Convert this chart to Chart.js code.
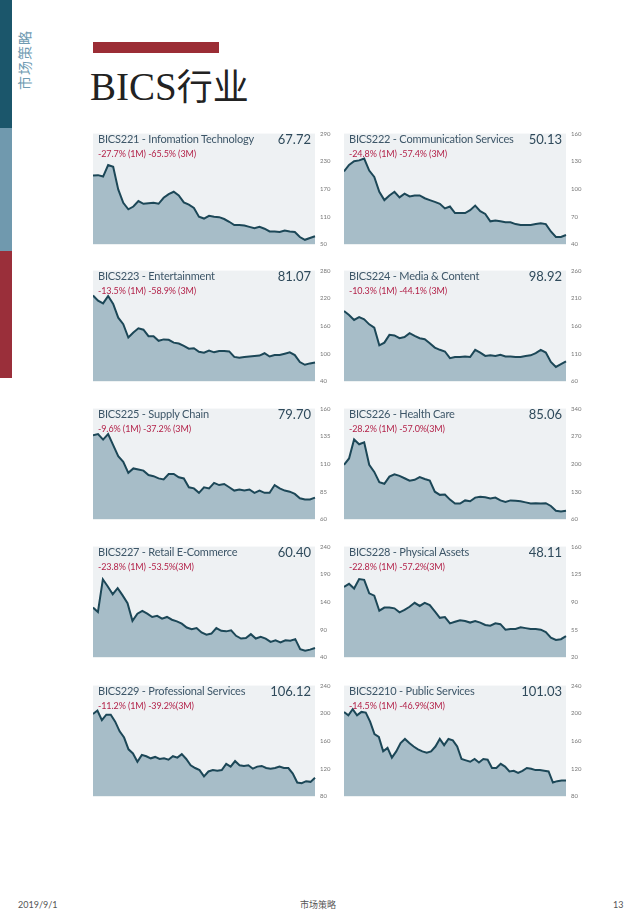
<!DOCTYPE html>
<html>
<head>
<meta charset="utf-8">
<script src="https://cdn.jsdelivr.net/npm/chart.js@4.4.0/dist/chart.umd.min.js"></script>
<style>
  html, body { margin:0; padding:0; background:#fff; }
  body { width:640px; height:924px; position:relative; overflow:hidden; font-family: Lato, "Open Sans", sans-serif; }
  .abs { position:absolute; }
  .side1 { left:0; top:0; width:12px; height:128px; background:#1b566b; }
  .side2 { left:0; top:128px; width:12px; height:123px; background:#7099ae; }
  .side3 { left:0; top:251px; width:12px; height:127px; background:#9a2f3a; }
  .vtext { left:-8px; top:52px; width:64px; height:16px; transform:rotate(-90deg); color:#6f9bb2; font-family:"Noto Sans CJK SC", sans-serif; font-size:14px; line-height:16px; text-align:center; letter-spacing:1px; }
  .redbar { left:93px; top:42px; width:126px; height:11px; background:#9b2d35; }
  .title { left:90px; top:60px; font-family:"Liberation Serif", "Noto Serif CJK SC", serif; font-size:39px; color:#222; line-height:48px; }
  .title .cjk { font-family:"Noto Sans CJK SC", sans-serif; font-size:36px; }
  .name { font-size:11px; color:#3d5668; white-space:nowrap; line-height:12px; letter-spacing:-0.2px; }
  .val { font-size:13px; color:#2f4a5b; white-space:nowrap; line-height:14px; text-align:right; width:60px; }
  .chg { font-size:9px; color:#b3234a; white-space:nowrap; line-height:10px; letter-spacing:-0.1px; }
  canvas { position:absolute; }
  .foot { top:899px; font-size:9px; color:#555; line-height:12px; }
</style>
</head>
<body>
<div class="abs side1"></div>
<div class="abs side2"></div>
<div class="abs side3"></div>
<div class="abs vtext">市场策略</div>
<div class="abs redbar"></div>
<div class="abs title">BICS<span class="cjk">行业</span></div>
<div id="wrap"></div>
<div class="abs foot" style="left:18px;">2019/9/1</div>
<div class="abs foot" style="left:300px;font-family:'Noto Sans CJK SC',sans-serif;">市场策略</div>
<div class="abs foot" style="left:613px;">13</div>
<script>
// ---- data ----
const names = [
  "BICS221 - Infomation Technology", "BICS222 - Communication Services",
  "BICS223 - Entertainment", "BICS224 - Media & Content",
  "BICS225 - Supply Chain", "BICS226 - Health Care",
  "BICS227 - Retail E-Commerce", "BICS228 - Physical Assets",
  "BICS229 - Professional Services", "BICS2210 - Public Services"
];
const lastValues = ["67.72","50.13","81.07","98.92","79.70","85.06","60.40","48.11","106.12","101.03"];
const changes = [
  "-27.7% (1M) -65.5% (3M)", "-24.8% (1M) -57.4% (3M)",
  "-13.5% (1M) -58.9% (3M)", "-10.3% (1M) -44.1% (3M)",
  "-9.6% (1M) -37.2% (3M)", "-28.2% (1M) -57.0%(3M)",
  "-23.8% (1M) -53.5%(3M)", "-22.8% (1M) -57.2%(3M)",
  "-11.2% (1M) -39.2%(3M)", "-14.5% (1M) -46.9%(3M)"
];
const tick221 = [50,110,170,230,290];
const tick222 = [40,70,100,130,160];
const tick223 = [40,100,160,220,280];
const tick224 = [60,110,160,210,260];
const tick225 = [60,85,110,135,160];
const tick226 = [60,130,200,270,340];
const tick227 = [40,90,140,190,240];
const tick228 = [20,55,90,125,160];
const tick229 = [80,120,160,200,240];
const tick2210 = [80,120,160,200,240];

const s221 = [199,200,197,222,218,169,140,126,132,144,138,139,140,138,151,159,164,156,141,136,129,110,106,112,110,109,105,99,92,92,91,88,85,88,84,78,78,77,80,78,77,66,60,64,67.72];
const s222 = [119,126,130,131,133,120,113,97,88,93,97,91,95,92,93,93,90,88,86,84,79,81,74,74,74,77,82,76,73,65,66,65,64,64,62,61,61,61,62,63,62,54,48,48,50.13];
const s223 = [226,215,209,225,208,178,164,135,146,155,152,138,138,128,131,130,124,122,117,111,112,104,102,107,103,106,106,105,93,91,93,94,95,96,101,94,97,97,100,103,97,82,76,79,81.07];
const s224 = [187,180,171,176,172,163,157,125,130,144,143,138,140,147,142,138,136,129,121,117,114,102,104,104,105,104,117,112,106,107,106,108,105,105,104,104,106,107,111,117,112,95,86,91,96];
const s225 = [136,137,132,137,127,117,112,102,106,105,104,100,99,97,96,101,101,98,97,89,88,84,89,88,93,91,92,89,86,87,86,87,84,86,84,84,91,88,86,85,83,79,78,78,79.7];
const s226 = [198,214,262,250,255,198,180,154,150,168,174,170,164,158,160,167,162,158,130,122,123,110,100,100,108,106,115,117,116,113,115,108,104,108,107,106,103,100,101,100,101,94,82,80,82];
const s227 = [130,122,181,168,154,165,152,138,106,119,124,119,113,115,110,113,108,105,101,94,91,93,85,81,83,93,88,87,89,79,74,75,82,74,77,74,68,71,67,71,70,73,55,52,54,57];
const s228 = [109,113,107,119,118,101,98,79,83,83,82,77,80,84,89,85,89,86,78,70,71,63,65,67,66,64,66,64,61,60,63,62,55,56,56,58,57,56,56,55,52,45,42,43,47];
const s229 = [199,204,190,198,198,188,174,165,148,142,130,140,138,135,137,134,135,133,138,136,141,134,125,121,118,109,116,118,117,118,127,123,131,125,124,125,120,123,124,121,120,121,123,121,121,113,100,99,102,101,107];
const s2210 = [202,197,206,197,202,201,188,170,166,145,150,136,145,157,163,157,152,148,145,143,145,152,163,154,163,161,152,134,132,130,134,129,134,133,121,121,127,123,116,117,114,117,121,120,118,118,117,116,100,102,103,103];

const seriesList = [s221,s222,s223,s224,s225,s226,s227,s228,s229,s2210];
const tickList = [tick221,tick222,tick223,tick224,tick225,tick226,tick227,tick228,tick229,tick2210];

// ---- layout ----
const rowTops = [130, 267, 405, 543, 682];
const colLefts = [93, 344];
const plotH = 118, plotW = 222, axisW = 18;

const panelBg = {
  id: 'panelBg',
  beforeDatasetsDraw(chart) {
    const {ctx, chartArea:a} = chart;
    ctx.save();
    ctx.fillStyle = '#eef1f3';
    ctx.fillRect(a.left, a.top, a.right - a.left, a.bottom - a.top);
    ctx.restore();
  }
};

const wrap = document.getElementById('wrap');
seriesList.forEach((data, i) => {
  const row = Math.floor(i / 2), col = i % 2;
  const left = colLefts[col], top = rowTops[row];
  const ticks = tickList[i];
  const cv = document.createElement('canvas');
  cv.width = plotW + axisW; cv.height = plotH + 10;
  cv.style.left = left + 'px'; cv.style.top = (top - 5) + 'px';
  cv.style.width = (plotW + axisW) + 'px'; cv.style.height = (plotH + 10) + 'px';
  wrap.appendChild(cv);

  new Chart(cv, {
    type: 'line',
    data: {
      labels: data.map((_, k) => k),
      datasets: [{
        data: data,
        borderColor: '#1c4757',
        borderWidth: 2,
        backgroundColor: '#a7bdc8',
        fill: 'start',
        pointRadius: 0,
        tension: 0
      }]
    },
    options: {
      responsive: false,
      animation: false,
      devicePixelRatio: 1,
      layout: { padding: { top: 5, bottom: 5, left: 0, right: 0 } },
      plugins: { legend: { display: false }, tooltip: { enabled: false } },
      scales: {
        x: { display: false, offset: false },
        y: {
          position: 'right',
          min: ticks[0], max: ticks[ticks.length - 1],
          afterBuildTicks: (s) => { s.ticks = ticks.map(v => ({ value: v })); },
          afterFit: (s) => { s.width = axisW; },
          grid: { display: false, drawTicks: false },
          border: { display: false },
          ticks: { font: { size: 6, family: 'Lato' }, color: '#777', padding: 5 }
        }
      }
    },
    plugins: [panelBg]
  });

  const n = document.createElement('div');
  n.className = 'abs name'; n.textContent = names[i];
  n.style.left = (left + 5) + 'px'; n.style.top = (top + 3) + 'px';
  wrap.appendChild(n);
  const v = document.createElement('div');
  v.className = 'abs val'; v.textContent = lastValues[i];
  v.style.left = (left + 218 - 60) + 'px'; v.style.top = (top + 2) + 'px';
  wrap.appendChild(v);
  const c = document.createElement('div');
  c.className = 'abs chg'; c.textContent = changes[i];
  c.style.left = (left + 5) + 'px'; c.style.top = (top + 19) + 'px';
  wrap.appendChild(c);
});
</script>
</body>
</html>
